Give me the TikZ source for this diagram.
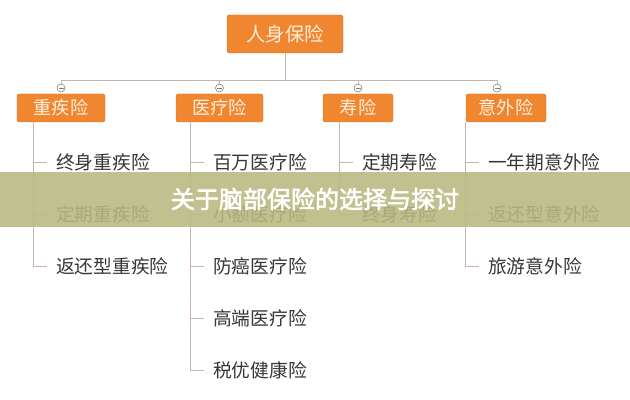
\documentclass[tikz,border=0pt]{standalone}
\usepackage{fontspec}
\setmainfont{Noto Sans CJK SC}
\newfontfamily\titlefont[FakeBold=2.5]{Noto Sans CJK SC}
\definecolor{boxorange}{RGB}{240,134,48}
\definecolor{boxtext}{RGB}{255,240,220}
\definecolor{linetan}{RGB}{200,182,170}
\definecolor{leafgray}{RGB}{55,55,55}
\definecolor{bandolive}{RGB}{185,185,128}
\tikzset{
  topbox/.style={fill=boxorange,draw=boxorange!85!black,rounded corners=2pt,text=boxtext,
    inner sep=0pt,font=\fontsize{15.5}{17}\selectfont},
  leaf/.style={anchor=west,text=leafgray,inner sep=0pt,font=\fontsize{16}{18}\selectfont},
  link/.style={draw=linetan,line width=0.8pt}
}
\begin{document}
\begin{tikzpicture}[x=0.03cm,y=-0.03cm]
\useasboundingbox[fill=white] (0,0) rectangle (630,400);
% root
\node[topbox,minimum width=116*0.03cm,minimum height=38*0.03cm] (root) at (285,34) {\fontsize{16.5}{18}\selectfont 人身保险};
% categories
\node[topbox,minimum width=88*0.03cm,minimum height=28*0.03cm] (zj) at (61,108) {重疾险};
\node[topbox,minimum width=87*0.03cm,minimum height=28*0.03cm] (yl) at (219.5,108) {医疗险};
\node[topbox,minimum width=70*0.03cm,minimum height=28*0.03cm] (sx) at (358,108) {寿险};
\node[topbox,minimum width=80*0.03cm,minimum height=28*0.03cm] (yw) at (506,108) {意外险};
\coordinate (bus) at (285,80);
\draw[link] (root.south) -- (bus);
\draw[link] (61,80) -- (497,80);
\foreach \x/\n in {61/zj,219.5/yl,358/sx,497/yw}{
  \draw[link] (\x,80) -- (\x,84);
  \draw[draw=gray,fill=white,line width=0.5pt] (\x,88) circle (4);
  \draw[gray,line width=0.5pt] (\x-2.5,88) -- (\x+2.5,88);
}
% leaves
\foreach \p/\x/\list in {zj/33/{终身重疾险,定期重疾险,返还型重疾险},
    yl/190/{百万医疗险,小额医疗险,防癌医疗险,高端医疗险,税优健康险},
    sx/339/{定期寿险,终身寿险},
    yw/465/{一年期意外险,返还型意外险,旅游意外险}}{
  \foreach \t [count=\i] in \list {
    \node[leaf] (\p\i) at (\x+23,110+52*\i) {\t};
    \draw[link] (\x,110+52*\i) -- ++(14,0);
    \xdef\last{\i}
  }
  \draw[link] (\x,122) -- (\x,110+52*\last);
}
% banner
\fill[bandolive,opacity=0.88] (0,172) rectangle (630,227);
\node[text=white,font=\titlefont\fontsize{20.5}{22}\selectfont] (title) at (315,199) {关于脑部保险的选择与探讨};
\end{tikzpicture}
\end{document}
